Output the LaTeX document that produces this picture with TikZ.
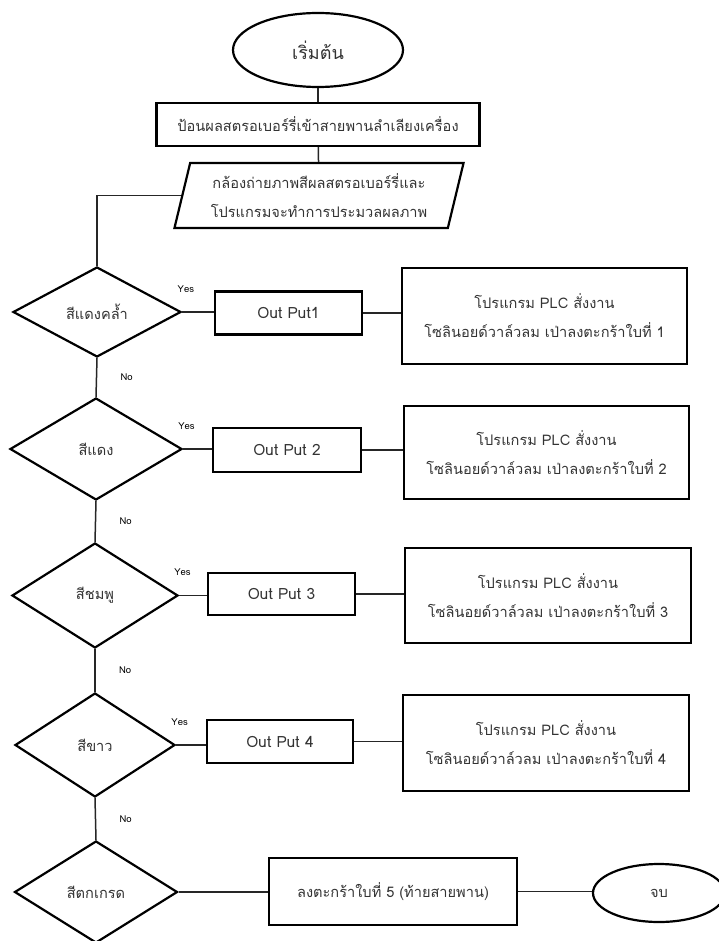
\documentclass[tikz,border=0pt]{standalone}
\usepackage{fontspec}
\setmainfont[Script=Thai]{Loma}
\usetikzlibrary{shapes.geometric}
\begin{document}
\begin{tikzpicture}[x=1pt,y=-1pt]
      \newcommand{\yes}{node[pos=0.12,yshift=23pt] {\fontsize{9.5}{9.5}\selectfont Yes}}
      \newcommand{\no}{node[midway,right=20pt] {\fontsize{9.5}{9.5}\selectfont No}}
      \tikzstyle{edge}=[line width=1.5pt,draw=black!85]
      \tikzstyle{txt}=[text=black!80,font=\fontsize{14.6}{29}\selectfont,align=center]
      \tikzstyle{term}=[txt,ellipse,draw=black,line width=2.2pt]
      \tikzstyle{box}=[txt,rectangle,draw=black,line width=2.2pt]
      \tikzstyle{outbox}=[box,font=\fontsize{15.5}{20}\selectfont]
      \tikzstyle{io}=[txt,trapezium,trapezium left angle=75,trapezium right angle=105,
        trapezium stretches=true,draw=black,line width=2.2pt]
      \tikzstyle{test}=[txt,diamond,draw=black,line width=2.2pt,inner sep=0pt]
      \useasboundingbox (0,0) rectangle (719,941);

      \node[term,minimum width=170pt,minimum height=74pt,font=\fontsize{18}{18}\selectfont] (start) at (318,50) {เริ่มต้น};
      \node[box,minimum width=323pt,minimum height=43pt] (feed) at (318,124.5) {ป้อนผลสตรอเบอร์รี่เข้าสายพานลำเลียงเครื่อง};
      \node[io,minimum width=290pt,minimum height=65pt] (cam) at (319,195.5) {กล้องถ่ายภาพสีผลสตรอเบอร์รี่และ\\โปรแกรมจะทำการประมวลผลภาพ};

      \node[test,minimum width=168pt,minimum height=90pt] (d1) at (97,312) {สีแดงคล้ำ};
      \node[test,minimum width=172pt,minimum height=102pt] (d2) at (96,449) {สีแดง};
      \node[test,minimum width=166pt,minimum height=105pt] (d3) at (95,595.5) {สีชมพู};
      \node[test,minimum width=160pt,minimum height=104pt] (d4) at (95,745) {สีขาว};
      \node[test,minimum width=163pt,minimum height=102pt] (d5) at (96,892) {สีตกเกรด};

      \node[outbox,minimum width=147pt,minimum height=43pt] (o1) at (288.5,313) {Out Put1};
      \node[outbox,minimum width=148pt,minimum height=44pt] (o2) at (287,450) {Out Put 2};
      \node[outbox,minimum width=147pt,minimum height=42pt] (o3) at (281.5,594) {Out Put 3};
      \node[outbox,minimum width=146pt,minimum height=43pt] (o4) at (280,741.5) {Out Put 4};
      \node[box,minimum width=248pt,minimum height=67pt] (o5) at (393,891.5) {\raisebox{4pt}{ลงตะกร้าใบที่ 5 (ท้ายสายพาน)}};

      \node[box,minimum width=285pt,minimum height=96pt] (p1) at (544.5,316) {โปรแกรม PLC สั่งงาน\\โซลินอยด์วาล์วลม เป่าลงตะกร้าใบที่ 1};
      \node[box,minimum width=285pt,minimum height=93pt] (p2) at (546.5,452.5) {โปรแกรม PLC สั่งงาน\\โซลินอยด์วาล์วลม เป่าลงตะกร้าใบที่ 2};
      \node[box,minimum width=286pt,minimum height=95pt] (p3) at (548,595.5) {โปรแกรม PLC สั่งงาน\\โซลินอยด์วาล์วลม เป่าลงตะกร้าใบที่ 3};
      \node[box,minimum width=286pt,minimum height=96pt] (p4) at (546,743) {โปรแกรม PLC สั่งงาน\\โซลินอยด์วาล์วลม เป่าลงตะกร้าใบที่ 4};

      \node[term,minimum width=132pt,minimum height=58pt] (stop) at (659,893) {\raisebox{-5pt}{จบ}};

      \draw[edge] (start)--(feed);
      \draw[edge] (feed)--(cam);
      \draw[edge] (cam.west) -| (d1.north);

      \draw[edge] (d1.east)--(d1.east -| o1.west) \yes;
      \draw[edge] (d2.east)--(d2.east -| o2.west) \yes;
      \draw[edge] (d3.east)--(d3.east -| o3.west) \yes;
      \draw[edge] (d4.east)--(d4.east -| o4.west) \yes;
      \draw[edge] (d5.east)--(d5.east -| o5.west);

      \draw[edge] (o1.east)--(o1.east -| p1.west);
      \draw[edge] (o2.east)--(o2.east -| p2.west);
      \draw[edge] (o3.east)--(o3.east -| p3.west);
      \draw[edge] (o4.east)--(o4.east -| p4.west);
      \draw[edge] (o5.east)--(o5.east -| stop.west);

      \draw[edge] (d1.south)--(d2.north) \no;
      \draw[edge] (d2.south)--(d3.north) \no;
      \draw[edge] (d3.south)--(d4.north) \no;
      \draw[edge] (d4.south)--(d5.north) \no;
    \end{tikzpicture}
\end{document}
